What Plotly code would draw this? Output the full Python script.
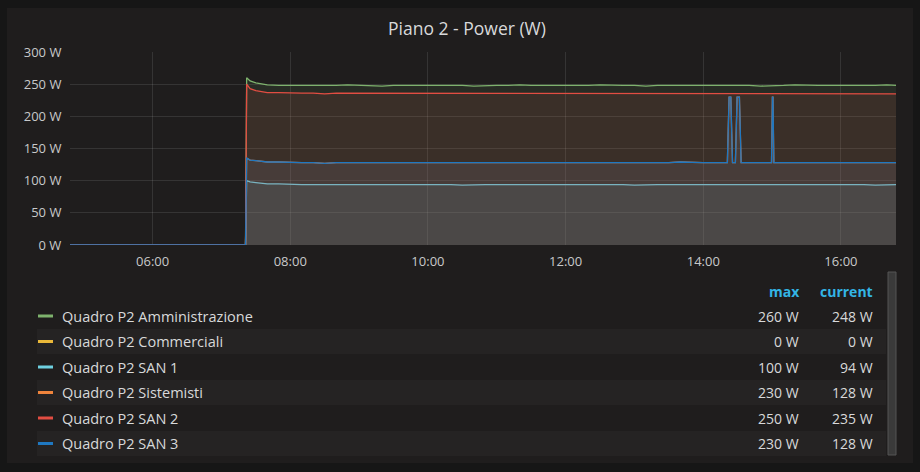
import plotly.graph_objects as go

# time of each sample (same day)
day = "2019-03-12 "
hours = [
    "04:48", "07:21", "07:22", "07:25", "07:30", "07:35", "07:40", "07:50",
    "08:00", "08:10", "08:20", "08:30", "08:40", "08:50", "09:00", "09:10", "09:20", "09:30", "09:40", "09:50",
    "10:00", "10:10", "10:20", "10:30", "10:40", "10:50", "11:00", "11:10", "11:20", "11:30", "11:40", "11:50",
    "12:00", "12:10", "12:20", "12:30", "12:40", "12:50", "13:00", "13:10", "13:20", "13:30", "13:40", "13:50",
    "14:00", "14:10", "14:20", "14:21:00", "14:22:30", "14:24:00", "14:25:30", "14:28:00", "14:29:30",
    "14:31:30", "14:33:00", "14:40", "14:50", "14:59:30", "15:00:15", "15:00:45", "15:01:30",
    "15:10", "15:20", "15:30", "15:40", "15:50", "16:00", "16:10", "16:20", "16:30", "16:40", "16:48",
]

amministrazione = [
    0, 0, 260, 255, 252, 250, 249, 248,
    248, 248, 247, 248, 248, 249, 248, 248, 247, 248, 248, 248,
    248, 249, 248, 248, 247, 248, 248, 248, 249, 248, 248, 247,
    248, 248, 248, 249, 248, 248, 248, 247, 248, 248, 248, 248,
    249, 248, 248, 248, 248, 248, 248, 248, 248,
    248, 248, 248, 247, 248, 248, 248, 248,
    248, 249, 248, 248, 248, 248, 247, 248, 248, 249, 248,
]
# Commerciali only reports zeros before the others switch on
commerciali_hours = ["04:48", "07:21"]
commerciali = [0, 0]
san1 = [
    0, 0, 100, 98, 97, 96, 95, 95,
    94, 94, 94, 94, 94, 95, 94, 94, 94, 94, 94, 94,
    94, 94, 94, 93, 94, 94, 94, 94, 95, 94, 94, 94,
    94, 94, 94, 94, 94, 94, 93, 94, 94, 94, 94, 94,
    94, 94, 94, 94, 94, 94, 94, 94, 94,
    94, 94, 94, 94, 94, 94, 94, 94,
    94, 94, 95, 94, 94, 94, 94, 94, 93, 94, 94,
]
sistemisti = [
    0, 0, 135, 132, 131, 130, 129, 129,
    128, 128, 128, 127, 128, 128, 128, 128, 127, 128, 128, 128,
    128, 128, 128, 128, 128, 127, 128, 128, 128, 128, 128, 128,
    128, 128, 127, 128, 128, 128, 128, 128, 128, 128, 129, 128,
    128, 128, 128, 128, 230, 230, 128, 128, 230,
    230, 128, 128, 128, 128, 230, 230, 128,
    128, 128, 128, 129, 128, 128, 128, 128, 128, 128, 128,
]
san2 = [
    0, 0, 250, 243, 240, 238, 237, 237,
    236, 236, 236, 235, 236, 236, 236, 235, 236, 236, 235, 236,
    236, 236, 235, 236, 236, 236, 235, 236, 236, 236, 236, 235,
    236, 235, 236, 236, 236, 235, 236, 236, 235, 236, 236, 236,
    236, 235, 236, 236, 236, 236, 236, 236, 236,
    236, 236, 235, 236, 236, 236, 236, 236,
    235, 236, 236, 235, 236, 236, 236, 235, 236, 236, 235,
]
san3 = [
    0, 0, 135, 132, 131, 130, 129, 129,
    128, 128, 128, 127, 128, 128, 128, 128, 127, 128, 128, 128,
    128, 128, 128, 128, 128, 127, 128, 128, 128, 128, 128, 128,
    128, 128, 127, 128, 128, 128, 128, 128, 128, 128, 129, 128,
    128, 128, 128, 128, 230, 230, 128, 128, 230,
    230, 128, 128, 128, 128, 230, 230, 128,
    128, 128, 128, 129, 128, 128, 128, 128, 128, 128, 128,
]

names = ["Quadro P2 Amministrazione", "Quadro P2 Commerciali", "Quadro P2 SAN 1",
         "Quadro P2 Sistemisti", "Quadro P2 SAN 2", "Quadro P2 SAN 3"]
series_hours = [hours, commerciali_hours, hours, hours, hours, hours]
series = [amministrazione, commerciali, san1, sistemisti, san2, san3]
colors = ["#7eb26d", "#eab839", "#6ed0e0", "#ef843c", "#e24d42", "#1f78c1"]

# plot area in pixels
PL, PR, PT, PB = 70, 896, 52, 245
FONT = "Open Sans, Noto Sans, sans-serif"


def px(x):
    return (x - PL) / (PR - PL)


def py(y):
    return (PB - y) / (PB - PT)


def rgba(hex_color, a):
    h = hex_color.lstrip("#")
    return "rgba(%d,%d,%d,%s)" % (int(h[0:2], 16), int(h[2:4], 16), int(h[4:6], 16), a)


fig = go.Figure()
for name, hrs, vals, col in zip(names, series_hours, series, colors):
    fig.add_trace(go.Scatter(x=[day + h for h in hrs], y=vals, name=name, mode="lines",
                             line=dict(color=col, width=1.3),
                             fill="tozeroy", fillcolor=rgba(col, 0.1)))

shapes = [
    # panel
    dict(type="rect", xref="paper", yref="paper", x0=px(7), x1=px(913), y0=py(8), y1=py(463),
         fillcolor="#1f1d1d", line=dict(width=0), layer="below"),
    # scrollbar
    dict(type="rect", xref="paper", yref="paper", x0=px(888), x1=px(896), y0=py(272), y1=py(455),
         fillcolor="#3a3a3a", line=dict(color="#555555", width=1), layer="below"),
]
annotations = [
    dict(text="<b>max</b>", x=px(802), y=py(291), xanchor="right"),
    dict(text="<b>current</b>", x=px(875), y=py(291), xanchor="right"),
]
for a in annotations:
    a.update(xref="paper", yref="paper", yanchor="middle", showarrow=False,
             font=dict(family=FONT, size=14, color="#33b5e5"))

for i, (name, vals, col) in enumerate(zip(names, series, colors)):
    yc = 316 + i * 25.5
    if i % 2 == 1:
        shapes.append(dict(type="rect", xref="paper", yref="paper", x0=px(37), x1=px(886),
                           y0=py(yc - 12.5), y1=py(yc + 12.5),
                           fillcolor="#252323", line=dict(width=0), layer="below"))
    shapes.append(dict(type="rect", xref="paper", yref="paper", x0=px(38), x1=px(53),
                       y0=py(yc - 1.5), y1=py(yc + 1.5), fillcolor=col, line=dict(width=0)))
    annotations.append(dict(text=name, x=px(60), y=py(yc), xanchor="left",
                            font=dict(family=FONT, size=14.5, color="#d8d9da")))
    annotations.append(dict(text="%d W" % max(vals), x=px(801), y=py(yc), xanchor="right",
                            font=dict(family=FONT, size=14, color="#d8d9da")))
    annotations.append(dict(text="%d W" % vals[-1], x=px(875), y=py(yc), xanchor="right",
                            font=dict(family=FONT, size=14, color="#d8d9da")))
    for a in annotations[-3:]:
        a.update(xref="paper", yref="paper", yanchor="middle", showarrow=False)

fig.update_layout(
    width=920, height=472, autosize=False,
    margin=dict(l=PL, r=920 - PR, t=PT, b=472 - PB, pad=0),
    paper_bgcolor="#161616", plot_bgcolor="rgba(0,0,0,0)",
    showlegend=False,
    font=dict(family=FONT, color="#c8c9ca", size=13),
    title=dict(text="Piano 2 - Power (W)", x=467 / 920, y=1 - 29 / 472, xanchor="center", yanchor="middle",
               font=dict(family=FONT, size=17.5, color="#d8d9da")),
    shapes=shapes, annotations=annotations,
)
fig.update_xaxes(type="date", range=[day + "04:48", day + "16:48"],
                 tick0=day + "00:00", dtick=7200000, tickformat="%H:%M",
                 showgrid=True, gridcolor="rgba(255,255,255,0.1)", gridwidth=1,
                 zeroline=False, showline=False,
                 ticks="outside", ticklen=4, tickcolor="rgba(0,0,0,0)",
                 tickfont=dict(size=13, color="#c8c9ca"))
fig.update_yaxes(range=[0, 300], dtick=50, ticksuffix=" W",
                 showgrid=True, gridcolor="rgba(255,255,255,0.1)", gridwidth=1,
                 zeroline=False, showline=False,
                 ticks="outside", ticklen=5, tickcolor="rgba(0,0,0,0)",
                 tickfont=dict(size=13, color="#c8c9ca"))

# the page has an 8px body margin by default; drop it so the figure sits at 0,0
fig.write_html("out.html", config={"displayModeBar": False},
               post_script="document.body.style.margin='0';")
